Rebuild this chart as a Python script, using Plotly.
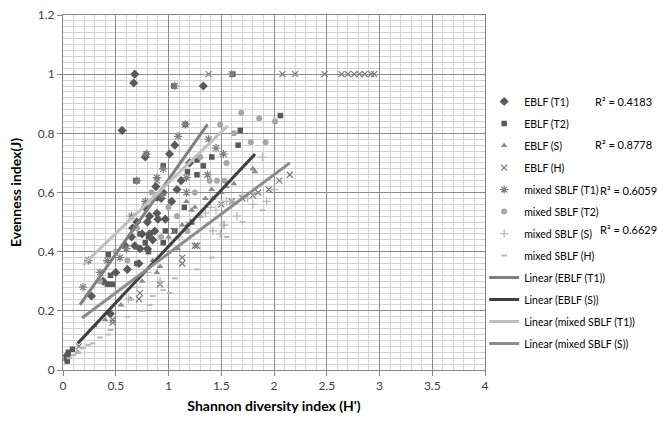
import plotly.graph_objects as go

# ---------------- data ----------------
eblf_t1_x = [0.68, 0.67, 1.33, 0.56, 0.78, 1.01, 1.06, 0.82, 0.89, 1.08, 1.03, 0.97, 0.80, 0.75, 0.82, 0.68, 0.73,
             0.80, 0.85, 0.72, 0.61, 0.59, 0.27, 0.45, 0.04, 0.90, 1.12, 0.95, 0.66, 0.50, 0.38, 1.20, 0.88, 0.65,
             0.70, 0.78, 0.93, 0.87]
eblf_t1_y = [1.00, 0.97, 0.96, 0.81, 0.72, 0.73, 0.76, 0.52, 0.53, 0.61, 0.57, 0.51, 0.50, 0.46, 0.46, 0.42, 0.41,
             0.41, 0.44, 0.36, 0.34, 0.42, 0.25, 0.19, 0.05, 0.51, 0.64, 0.60, 0.48, 0.33, 0.30, 0.70, 0.62, 0.45,
             0.50, 0.55, 0.58, 0.47]

eblf_t2_x = [1.61, 2.06, 1.68, 1.66, 1.41, 1.33, 1.27, 1.18, 1.27, 0.95, 0.73, 0.81, 0.78, 0.95, 0.81, 0.43, 0.45,
             0.42, 0.47, 0.09, 0.05, 0.04, 1.06, 1.22, 0.97, 1.05, 0.69, 0.70, 0.03, 1.15, 0.88, 0.79, 1.16, 0.70]
eblf_t2_y = [1.00, 0.86, 0.81, 0.76, 0.72, 0.69, 0.71, 0.67, 0.66, 0.69, 0.46, 0.45, 0.43, 0.43, 0.40, 0.39, 0.32,
             0.29, 0.29, 0.07, 0.06, 0.03, 0.47, 0.50, 0.47, 0.96, 0.64, 0.36, 0.04, 0.55, 0.58, 0.73, 0.83, 0.64]

eblf_s_x = [1.82, 1.41, 1.42, 1.22, 1.17, 1.80, 1.13, 0.89, 0.92, 0.64, 0.40, 0.14, 1.09, 1.30, 1.55, 1.62, 1.00,
            0.75, 0.55, 0.30, 1.50, 1.35, 1.25, 0.85, 1.18]
eblf_s_y = [0.67, 0.61, 0.58, 0.54, 0.57, 0.68, 0.49, 0.33, 0.35, 0.24, 0.17, 0.06, 0.41, 0.52, 0.62, 0.63, 0.45,
            0.30, 0.22, 0.15, 0.60, 0.58, 0.55, 0.37, 0.49]

eblf_h_x = [1.38, 2.08, 2.20, 2.48, 2.64, 2.70, 2.76, 2.81, 2.86, 2.92, 2.95, 2.15, 2.05, 1.13, 1.13, 0.92, 0.73,
            0.72, 0.47, 0.47, 1.25, 1.27, 0.89, 1.60, 1.70, 1.80, 1.85, 1.95, 1.50, 0.15, 1.05]
eblf_h_y = [1.00, 1.00, 1.00, 1.00, 1.00, 1.00, 1.00, 1.00, 1.00, 1.00, 1.00, 0.66, 0.64, 0.38, 0.36, 0.29, 0.26,
            0.24, 0.17, 0.16, 0.42, 0.42, 0.64, 0.57, 0.58, 0.59, 0.60, 0.61, 0.56, 0.08, 0.47]

mixed_t1_x = [1.06, 1.60, 0.79, 1.16, 0.70, 0.24, 0.19, 0.42, 0.89, 1.37, 1.38, 1.52, 1.09, 0.54, 0.65, 0.94, 1.17,
              0.78, 0.60, 1.45, 0.35, 1.17, 0.95]
mixed_t1_y = [0.96, 1.00, 0.73, 0.83, 0.64, 0.37, 0.28, 0.37, 0.65, 0.66, 0.78, 0.73, 0.79, 0.38, 0.52, 0.59, 0.60,
              0.57, 0.41, 0.75, 0.33, 0.65, 0.68]

mixed_t2_x = [1.69, 1.86, 2.01, 1.78, 1.92, 1.55, 1.49, 1.39, 1.46, 1.53, 1.08, 0.84, 0.61, 1.18, 1.00, 0.70, 0.50,
              0.35, 1.25, 1.62, 0.93, 1.30]
mixed_t2_y = [0.87, 0.85, 0.84, 0.77, 0.77, 0.70, 0.83, 0.64, 0.64, 0.64, 0.52, 0.60, 0.37, 0.47, 0.55, 0.48, 0.40,
              0.30, 0.60, 0.80, 0.45, 0.72]

mixed_s_x = [1.80, 1.65, 1.42, 1.49, 1.53, 1.93, 1.89, 1.20, 1.30, 1.40, 1.50, 1.60, 1.70, 1.80, 1.90, 2.00, 1.52,
             0.92, 0.62, 1.10, 1.00, 0.80, 1.35, 1.55, 1.75, 1.45, 0.70]
mixed_s_y = [0.56, 0.52, 0.47, 0.46, 0.49, 0.57, 0.72, 0.50, 0.52, 0.55, 0.56, 0.57, 0.59, 0.60, 0.60, 0.61, 0.49,
             0.30, 0.24, 0.45, 0.42, 0.33, 0.53, 0.57, 0.58, 0.54, 0.28]

mixed_h_x = [0.45, 0.43, 0.35, 0.28, 0.24, 0.19, 0.14, 0.61, 0.82, 0.85, 1.01, 1.06, 1.27, 1.41, 1.89, 0.64, 0.10,
             0.06, 1.55, 1.70, 0.95, 0.75]
mixed_h_y = [0.135, 0.12, 0.11, 0.09, 0.085, 0.074, 0.06, 0.18, 0.22, 0.25, 0.26, 0.31, 0.34, 0.38, 0.54, 0.24, 0.05,
             0.04, 0.45, 0.50, 0.27, 0.20]

# trend lines (end points)
trend_eblf_t1_x = [0.16, 1.37]
trend_eblf_t1_y = [0.22, 0.83]
trend_eblf_s_x = [0.14, 1.82]
trend_eblf_s_y = [0.09, 0.73]
trend_mixed_t1_x = [0.19, 1.56]
trend_mixed_t1_y = [0.355, 0.825]
trend_mixed_s_x = [0.18, 2.15]
trend_mixed_s_y = [0.176, 0.70]

r2_labels = ["R² = 0.4183", "R² = 0.8778", "R² = 0.6059", "R² = 0.6629"]

FONT = "Lato, 'Open Sans', sans-serif"

fig = go.Figure()

def add_pts(name, xs, ys, symbol, color, size, lw=1.0):
    fig.add_trace(go.Scatter(
        x=xs, y=ys, mode="markers", name=name, legendgroup=name,
        marker=dict(symbol=symbol, color=color, size=size, line=dict(color=color, width=lw)),
    ))

add_pts("EBLF (T1)", eblf_t1_x, eblf_t1_y, "diamond", "#595959", 7, 0)
add_pts("EBLF (T2)", eblf_t2_x, eblf_t2_y, "square", "#595959", 5.5, 0)
add_pts("EBLF (S)", eblf_s_x, eblf_s_y, "triangle-up", "#8a8a8a", 6, 0)
add_pts("EBLF (H)", eblf_h_x, eblf_h_y, "x-thin-open", "#7a7a7a", 6, 1.2)
add_pts("mixed SBLF (T1)", mixed_t1_x, mixed_t1_y, "asterisk-open", "#808080", 7, 1.2)
add_pts("mixed SBLF (T2)", mixed_t2_x, mixed_t2_y, "circle", "#a6a6a6", 6, 0)
add_pts("mixed SBLF (S)", mixed_s_x, mixed_s_y, "cross-thin-open", "#b8b8b8", 6, 1.2)
add_pts("mixed SBLF (H)", mixed_h_x, mixed_h_y, "line-ew-open", "#b8b8b8", 4, 2)

def add_line(name, xs, ys, color):
    fig.add_trace(go.Scatter(
        x=xs, y=ys, mode="lines", name=name, legendgroup=name,
        line=dict(color=color, width=3),
    ))

add_line("Linear (EBLF (T1))", trend_eblf_t1_x, trend_eblf_t1_y, "#7f7f7f")
add_line("Linear (EBLF (S))", trend_eblf_s_x, trend_eblf_s_y, "#404040")
add_line("Linear (mixed SBLF (T1))", trend_mixed_t1_x, trend_mixed_t1_y, "#c0c0c0")
add_line("Linear (mixed SBLF (S))", trend_mixed_s_x, trend_mixed_s_y, "#8c8c8c")

axis_common = dict(
    showline=True, linecolor="#868686", linewidth=1, mirror=True,
    gridcolor="#8c8c8c", gridwidth=1, zeroline=False, automargin=False,
    ticks="outside", ticklen=5, tickcolor="#868686",
    tickfont=dict(family=FONT, size=12, color="#404040"),
)

fig.update_layout(
    width=658, height=427,
    margin=dict(l=63, r=173, t=15, b=57),
    paper_bgcolor="white", plot_bgcolor="white",
    font=dict(family=FONT, size=12, color="#000"),
    xaxis=dict(range=[0, 4], dtick=0.5, tick0=0,
               minor=dict(dtick=0.1, showgrid=True, gridcolor="#d4d4d4", gridwidth=1),
               title=dict(text="<b>Shannon diversity index (H')</b>", font=dict(family=FONT, size=14), standoff=8),
               **axis_common),
    yaxis=dict(range=[0, 1.2], dtick=0.2, tick0=0, tickformat="~g",
               minor=dict(dtick=0.02, showgrid=True, gridcolor="#d4d4d4", gridwidth=1),
               title=dict(text="<b>Evenness index(J)</b>", font=dict(family=FONT, size=14), standoff=12),
               **axis_common),
    showlegend=True,
    legend=dict(x=0.998, y=0.797, xanchor="left", yanchor="top",
                font=dict(family=FONT, size=10.5, color="#000"),
                tracegroupgap=3, bgcolor="rgba(0,0,0,0)", itemwidth=30),
)

r2_pos = [(1.255, 0.755), (1.255, 0.634), (1.267, 0.507), (1.267, 0.397)]
for txt, (px, py) in zip(r2_labels, r2_pos):
    fig.add_annotation(x=px, y=py, xref="paper", yref="paper", text=txt, showarrow=False,
                       xanchor="left", yanchor="middle", font=dict(family=FONT, size=11, color="#000"))

fig.write_html(
    "out.html",
    config={"responsive": False, "displayModeBar": False},
    post_script="document.body.style.margin='0';document.body.style.overflow='hidden';",
)
